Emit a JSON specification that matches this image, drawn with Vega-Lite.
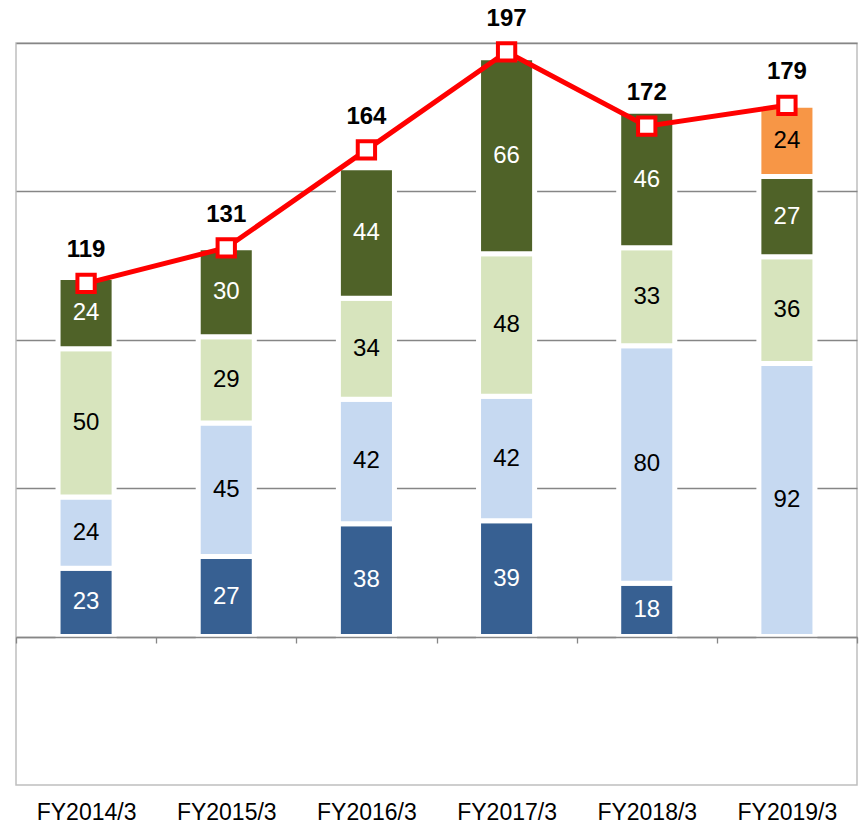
{
  "$schema": "https://vega.github.io/schema/vega-lite/v6.json",
  "width": 841,
  "height": 742,
  "autosize": {"type": "none"},
  "padding": {"left": 16, "top": 43, "right": 7, "bottom": 38},
  "background": "white",
  "config": {
    "view": {"stroke": "#BFBFBF", "strokeWidth": 1.5},
    "font": "Liberation Sans"
  },
  "datasets": {
    "segments": [
      {"year": "FY2014/3", "segment": "Segment 1", "value": 23},
      {"year": "FY2014/3", "segment": "Segment 2", "value": 24},
      {"year": "FY2014/3", "segment": "Segment 3", "value": 50},
      {"year": "FY2014/3", "segment": "Segment 4", "value": 24},
      {"year": "FY2015/3", "segment": "Segment 1", "value": 27},
      {"year": "FY2015/3", "segment": "Segment 2", "value": 45},
      {"year": "FY2015/3", "segment": "Segment 3", "value": 29},
      {"year": "FY2015/3", "segment": "Segment 4", "value": 30},
      {"year": "FY2016/3", "segment": "Segment 1", "value": 38},
      {"year": "FY2016/3", "segment": "Segment 2", "value": 42},
      {"year": "FY2016/3", "segment": "Segment 3", "value": 34},
      {"year": "FY2016/3", "segment": "Segment 4", "value": 44},
      {"year": "FY2017/3", "segment": "Segment 1", "value": 39},
      {"year": "FY2017/3", "segment": "Segment 2", "value": 42},
      {"year": "FY2017/3", "segment": "Segment 3", "value": 48},
      {"year": "FY2017/3", "segment": "Segment 4", "value": 66},
      {"year": "FY2018/3", "segment": "Segment 1", "value": 18},
      {"year": "FY2018/3", "segment": "Segment 2", "value": 80},
      {"year": "FY2018/3", "segment": "Segment 3", "value": 33},
      {"year": "FY2018/3", "segment": "Segment 4", "value": 46},
      {"year": "FY2019/3", "segment": "Segment 2", "value": 92},
      {"year": "FY2019/3", "segment": "Segment 3", "value": 36},
      {"year": "FY2019/3", "segment": "Segment 4", "value": 27},
      {"year": "FY2019/3", "segment": "Segment 5", "value": 24}
    ],
    "totals": [
      {"year": "FY2014/3", "total": 119},
      {"year": "FY2015/3", "total": 131},
      {"year": "FY2016/3", "total": 164},
      {"year": "FY2017/3", "total": 197},
      {"year": "FY2018/3", "total": 172},
      {"year": "FY2019/3", "total": 179}
    ]
  },
  "layer": [
    {
      "data": {"name": "segments"},
      "mark": {"type": "bar", "stroke": "white", "strokeWidth": 5, "width": {"band": 0.4}},
      "encoding": {
        "x": {
          "field": "year", "type": "nominal", "sort": null,
          "scale": {"paddingInner": 0, "paddingOuter": 0},
          "axis": {
            "title": null, "orient": "bottom", "offset": -148,
            "domainColor": "#868686", "domainWidth": 1.3,
            "ticks": true, "tickColor": "#868686", "tickSize": 6, "tickWidth": 1.3,
            "tickBand": "extent",
            "labelPadding": 158, "labelFontSize": 23, "labelColor": "black",
            "labelFont": "Liberation Sans", "labelAngle": 0, "grid": false, "zindex": 1
          }
        },
        "y": {
          "field": "value", "type": "quantitative", "stack": "zero",
          "scale": {"domain": [-50, 200], "nice": false, "zero": false},
          "axis": {
            "title": null, "labels": false, "ticks": false, "domain": false,
            "grid": true, "gridColor": "#868686", "gridWidth": 1.3,
            "values": [0, 50, 100, 150, 200]
          }
        },
        "color": {
          "field": "segment", "type": "nominal",
          "scale": {
            "domain": ["Segment 1", "Segment 2", "Segment 3", "Segment 4", "Segment 5"],
            "range": ["#376092", "#C6D9F1", "#D7E4BD", "#4F6228", "#F79646"]
          },
          "legend": null
        },
        "order": {"field": "segment", "sort": "ascending"}
      }
    },
    {
      "data": {"name": "segments"},
      "transform": [
        {"stack": "value", "groupby": ["year"], "sort": [{"field": "segment", "order": "ascending"}], "as": ["y0", "y1"]},
        {"fold": ["y0", "y1"], "as": ["edge", "pos"]},
        {"aggregate": [{"op": "mean", "field": "pos", "as": "mid"}], "groupby": ["year", "segment", "value"]}
      ],
      "mark": {"type": "text", "fontSize": 24, "baseline": "middle", "align": "center", "font": "Liberation Sans"},
      "encoding": {
        "x": {"field": "year", "type": "nominal", "sort": null},
        "y": {"field": "mid", "type": "quantitative", "stack": null},
        "text": {"field": "value", "type": "quantitative"},
        "color": {
          "condition": {"test": "datum.segment === 'Segment 1' || datum.segment === 'Segment 4'", "value": "white"},
          "value": "black"
        }
      }
    },
    {
      "data": {"name": "totals"},
      "mark": {"type": "line", "color": "#FF0000", "strokeWidth": 5},
      "encoding": {
        "x": {"field": "year", "type": "nominal", "sort": null},
        "y": {"field": "total", "type": "quantitative"}
      }
    },
    {
      "data": {"name": "totals"},
      "mark": {"type": "point", "shape": "square", "filled": true, "fill": "white", "stroke": "#FF0000", "strokeWidth": 4, "size": 300, "opacity": 1},
      "encoding": {
        "x": {"field": "year", "type": "nominal", "sort": null},
        "y": {"field": "total", "type": "quantitative"}
      }
    },
    {
      "data": {"name": "totals"},
      "mark": {"type": "text", "fontSize": 24, "fontWeight": "bold", "baseline": "alphabetic", "align": "center", "dy": -26, "color": "black", "font": "Liberation Sans"},
      "encoding": {
        "x": {"field": "year", "type": "nominal", "sort": null},
        "y": {"field": "total", "type": "quantitative"},
        "text": {"field": "total", "type": "quantitative"}
      }
    }
  ]
}
